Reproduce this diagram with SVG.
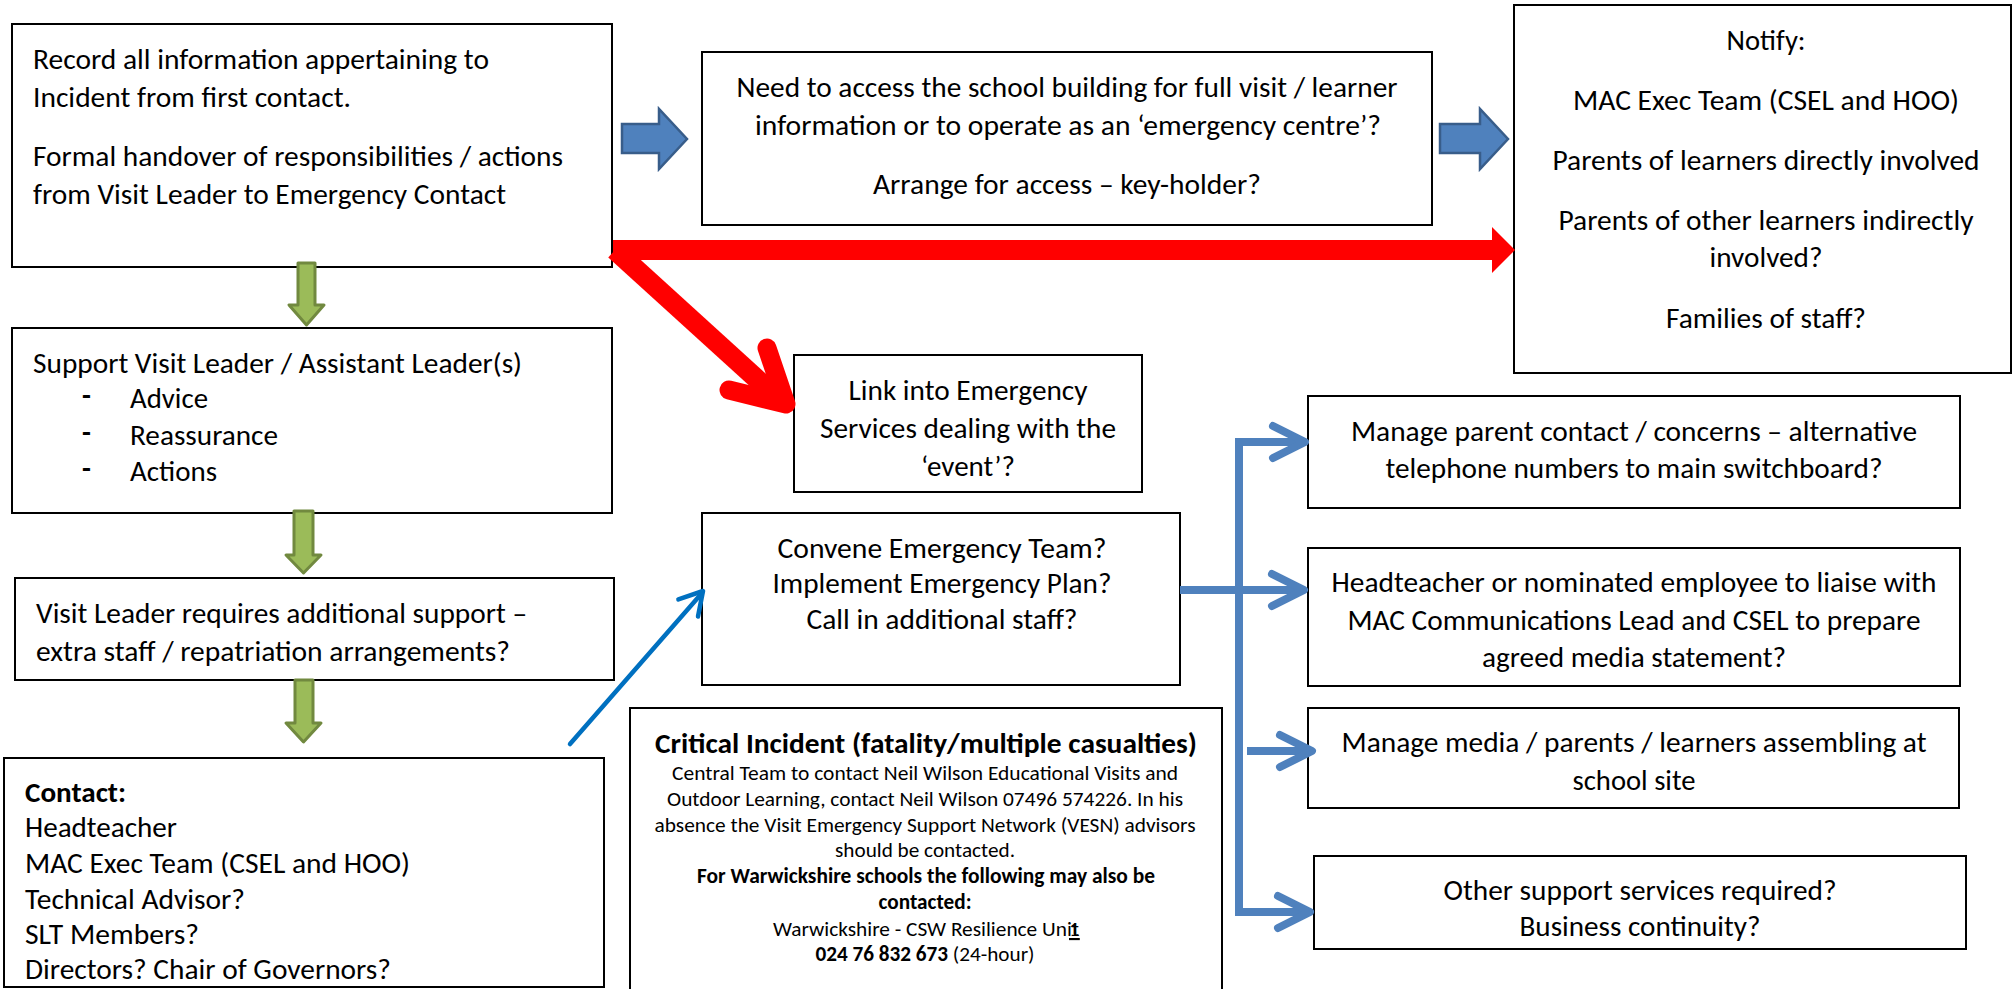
<svg xmlns="http://www.w3.org/2000/svg" width="2015" height="989" viewBox="0 0 2015 989">
<style>
.box{fill:#fff;stroke:#000;stroke-width:2}
.t{font-family:Carlito,Calibri,Lato,"Open Sans",sans-serif;font-size:29px;fill:#000}
.c{text-anchor:middle}
.s{font-size:21.3px}
.b{font-weight:bold}
.green{fill:#9BBB59;stroke:#71893F;stroke-width:3;stroke-linejoin:round}
.barrow{fill:#4F81BD;stroke:#385D8A;stroke-width:2.5;stroke-linejoin:miter}
.conn{fill:none;stroke:#4F81BD;stroke-width:8}
.head{fill:none;stroke:#4F81BD;stroke-width:8;stroke-linecap:round;stroke-linejoin:round}
.red{fill:none;stroke:#FF0000;stroke-width:20}
.redhead{fill:none;stroke:#FF0000;stroke-width:19;stroke-linecap:round;stroke-linejoin:round}
.thin{fill:none;stroke:#0070C0;stroke-width:4.5;stroke-linecap:round;stroke-linejoin:round}
</style>
<rect width="2015" height="989" fill="#fff"/>

<g id="record">
<rect class="box" x="12" y="24" width="600" height="243"/>
<text class="t" x="33" y="69" textLength="456" lengthAdjust="spacingAndGlyphs">Record all information appertaining to</text>
<text class="t" x="33" y="107" textLength="318" lengthAdjust="spacingAndGlyphs">Incident from first contact.</text>
<text class="t" x="33" y="166" textLength="530" lengthAdjust="spacingAndGlyphs">Formal handover of responsibilities / actions</text>
<text class="t" x="33" y="204" textLength="473" lengthAdjust="spacingAndGlyphs">from Visit Leader to Emergency Contact</text>
</g>

<g id="access">
<rect class="box" x="702" y="52" width="730" height="173"/>
<text class="t c" x="1067" y="97" textLength="661" lengthAdjust="spacingAndGlyphs">Need to access the school building for full visit / learner</text>
<text class="t c" x="1068" y="135" textLength="626" lengthAdjust="spacingAndGlyphs">information or to operate as an ‘emergency centre’?</text>
<text class="t c" x="1067" y="194" textLength="388" lengthAdjust="spacingAndGlyphs">Arrange for access – key-holder?</text>
</g>

<g id="notify">
<rect class="box" x="1514" y="5" width="497" height="368"/>
<text class="t c" x="1766" y="50" textLength="79" lengthAdjust="spacingAndGlyphs">Notify:</text>
<text class="t c" x="1766" y="110" textLength="386" lengthAdjust="spacingAndGlyphs">MAC Exec Team (CSEL and HOO)</text>
<text class="t c" x="1766" y="170" textLength="427" lengthAdjust="spacingAndGlyphs">Parents of learners directly involved</text>
<text class="t c" x="1766" y="230" textLength="415" lengthAdjust="spacingAndGlyphs">Parents of other learners indirectly</text>
<text class="t c" x="1766" y="267" textLength="113" lengthAdjust="spacingAndGlyphs">involved?</text>
<text class="t c" x="1766" y="328" textLength="200" lengthAdjust="spacingAndGlyphs">Families of staff?</text>
</g>

<g id="support">
<rect class="box" x="12" y="328" width="600" height="185"/>
<text class="t" x="33" y="373" textLength="489" lengthAdjust="spacingAndGlyphs">Support Visit Leader / Assistant Leader(s)</text>
<text class="t" x="82" y="405"><tspan class="b">-</tspan><tspan x="130" y="408" textLength="78" lengthAdjust="spacingAndGlyphs">Advice</tspan></text>
<text class="t" x="82" y="442"><tspan class="b">-</tspan><tspan x="130" y="445" textLength="148" lengthAdjust="spacingAndGlyphs">Reassurance</tspan></text>
<text class="t" x="82" y="478"><tspan class="b">-</tspan><tspan x="130" y="481" textLength="87" lengthAdjust="spacingAndGlyphs">Actions</tspan></text>
</g>

<g id="link">
<rect class="box" x="794" y="355" width="348" height="137"/>
<text class="t c" x="968" y="400" textLength="239" lengthAdjust="spacingAndGlyphs">Link into Emergency</text>
<text class="t c" x="968" y="438" textLength="296" lengthAdjust="spacingAndGlyphs">Services dealing with the</text>
<text class="t c" x="968" y="476" textLength="94" lengthAdjust="spacingAndGlyphs">‘event’?</text>
</g>

<g id="additional">
<rect class="box" x="15" y="578" width="599" height="102"/>
<text class="t" x="36" y="623" textLength="491" lengthAdjust="spacingAndGlyphs">Visit Leader requires additional support –</text>
<text class="t" x="36" y="661" textLength="474" lengthAdjust="spacingAndGlyphs">extra staff / repatriation arrangements?</text>
</g>

<g id="convene">
<rect class="box" x="702" y="513" width="478" height="172"/>
<text class="t c" x="942" y="558" textLength="329" lengthAdjust="spacingAndGlyphs">Convene Emergency Team?</text>
<text class="t c" x="942" y="593" textLength="339" lengthAdjust="spacingAndGlyphs">Implement Emergency Plan?</text>
<text class="t c" x="942" y="629" textLength="271" lengthAdjust="spacingAndGlyphs">Call in additional staff?</text>
</g>

<g id="parent-contact">
<rect class="box" x="1308" y="396" width="652" height="112"/>
<text class="t c" x="1634" y="441" textLength="566" lengthAdjust="spacingAndGlyphs">Manage parent contact / concerns – alternative</text>
<text class="t c" x="1634" y="478" textLength="497" lengthAdjust="spacingAndGlyphs">telephone numbers to main switchboard?</text>
</g>

<g id="media-statement">
<rect class="box" x="1308" y="548" width="652" height="138"/>
<text class="t c" x="1634" y="592" textLength="605" lengthAdjust="spacingAndGlyphs">Headteacher or nominated employee to liaise with</text>
<text class="t c" x="1634" y="630" textLength="573" lengthAdjust="spacingAndGlyphs">MAC Communications Lead and CSEL to prepare</text>
<text class="t c" x="1634" y="667" textLength="304" lengthAdjust="spacingAndGlyphs">agreed media statement?</text>
</g>

<g id="media-site">
<rect class="box" x="1308" y="708" width="651" height="100"/>
<text class="t c" x="1634" y="752" textLength="585" lengthAdjust="spacingAndGlyphs">Manage media / parents / learners assembling at</text>
<text class="t c" x="1634" y="790" textLength="123" lengthAdjust="spacingAndGlyphs">school site</text>
</g>

<g id="other-support">
<rect class="box" x="1314" y="856" width="652" height="93"/>
<text class="t c" x="1640" y="900" textLength="393" lengthAdjust="spacingAndGlyphs">Other support services required?</text>
<text class="t c" x="1640" y="936" textLength="241" lengthAdjust="spacingAndGlyphs">Business continuity?</text>
</g>

<g id="contact">
<rect class="box" x="4" y="758" width="600" height="229"/>
<text class="t b" x="25" y="802" textLength="101" lengthAdjust="spacingAndGlyphs">Contact:</text>
<text class="t" x="25" y="837" textLength="152" lengthAdjust="spacingAndGlyphs">Headteacher</text>
<text class="t" x="25" y="873" textLength="385" lengthAdjust="spacingAndGlyphs">MAC Exec Team (CSEL and HOO)</text>
<text class="t" x="25" y="909" textLength="220" lengthAdjust="spacingAndGlyphs">Technical Advisor?</text>
<text class="t" x="25" y="944" textLength="174" lengthAdjust="spacingAndGlyphs">SLT Members?</text>
<text class="t" x="25" y="979" textLength="366" lengthAdjust="spacingAndGlyphs">Directors? Chair of Governors?</text>
</g>

<g id="critical">
<rect class="box" x="630" y="708" width="592" height="295"/>
<text class="t c b" x="926" y="753" textLength="542" lengthAdjust="spacingAndGlyphs">Critical Incident (fatality/multiple casualties)</text>
<text class="t c s" x="925" y="780" textLength="506" lengthAdjust="spacingAndGlyphs">Central Team to contact Neil Wilson Educational Visits and</text>
<text class="t c s" x="925" y="806" textLength="516" lengthAdjust="spacingAndGlyphs">Outdoor Learning, contact Neil Wilson 07496 574226. In his</text>
<text class="t c s" x="925" y="832" textLength="541" lengthAdjust="spacingAndGlyphs">absence the Visit Emergency Support Network (VESN) advisors</text>
<text class="t c s" x="925" y="857" textLength="180" lengthAdjust="spacingAndGlyphs">should be contacted.</text>
<text class="t c s b" x="926" y="883" textLength="458" lengthAdjust="spacingAndGlyphs">For Warwickshire schools the following may also be</text>
<text class="t c s b" x="925" y="909" textLength="93" lengthAdjust="spacingAndGlyphs">contacted:</text>
<text class="t s" x="773" y="936"><tspan textLength="306" lengthAdjust="spacingAndGlyphs">Warwickshire - CSW Resilience Unit</tspan><tspan x="1069" text-decoration="underline">1</tspan></text>
<text class="t c s" x="925" y="961" textLength="219" lengthAdjust="spacingAndGlyphs"><tspan class="b">024 76 832 673</tspan> (24-hour)</text>
</g>

<g id="connectors">
<polygon class="green" points="298,263 315,263 315,305 324,305 306.5,325 289,305 298,305"/>
<polygon class="green" points="294,511 313,511 313,555 321,555 303.5,573 286,555 294,555"/>
<polygon class="green" points="295,680 313,680 313,723 321,723 303.5,742 286,723 295,723"/>
<polygon class="barrow" points="622,124 659,124 659,109 687,139 659,169 659,153 622,153"/>
<polygon class="barrow" points="1440,124 1480,124 1480,109 1508,139 1480,169 1480,153 1440,153"/>
<path class="red" d="M1494,250 L613,250"/>
<path class="red" d="M615,250 L781,401"/>
<polygon points="1492,227 1515,250 1492,273" fill="#FF0000"/>
<path class="redhead" d="M767,348 L786,404 L729,390"/>
<path class="thin" d="M570,744 L702,593"/>
<path class="thin" d="M678.4,599.4 L703,591 L698,616.5"/>
<path class="conn" d="M1301,442 L1239,442 L1239,912 L1306,912"/>
<path class="conn" d="M1180,590 L1300,590"/>
<path class="conn" d="M1247,751 L1308,751"/>
<path class="head" d="M1273,426 L1305,442 L1273,458"/>
<path class="head" d="M1272,574 L1304,590 L1272,606"/>
<path class="head" d="M1280,735 L1312,751 L1280,767"/>
<path class="head" d="M1278,896 L1310,912 L1278,928"/>
</g>
</svg>
